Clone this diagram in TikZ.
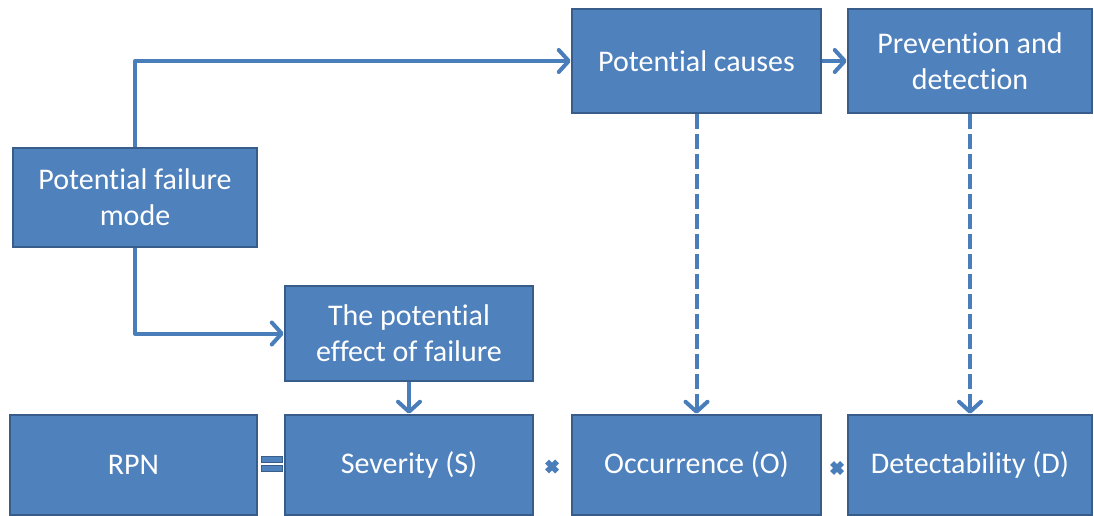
\documentclass[tikz,border=0pt]{standalone}
\usepackage{fontspec}
\setmainfont{Carlito}[Ligatures={NoCommon,NoDiscretionary}]
\usetikzlibrary{arrows.meta}
\definecolor{boxfill}{HTML}{4F81BD}
\definecolor{boxline}{HTML}{385D8A}
\definecolor{linkblue}{HTML}{4A7EBB}
\tikzset{
  stepbox/.style={draw=boxline, fill=boxfill, line width=2.5pt, text=white,
    font=\fontsize{30}{36}\selectfont, align=center, inner sep=0pt},
  link/.style={draw=linkblue, line width=4pt, line join=round,
    -{Straight Barb[length=10pt,width=22pt,line cap=round,line join=round]}},
  dashlink/.style={link, dash pattern=on 15pt off 5pt},
  opsign/.style={fill=boxfill, draw=boxline, line width=0.6pt},
  timessign/.style={draw=linkblue, line width=5.5pt}
}
\begin{document}
\begin{tikzpicture}[x=1pt,y=-1pt]
\useasboundingbox (0,0) rectangle (1094,516);

% process boxes
\node[stepbox, minimum width=244pt, minimum height=99pt] (pfm) at (135,197.5) {Potential failure\\mode};
\node[stepbox, minimum width=249pt, minimum height=104pt] (pc) at (696.5,61) {Potential causes};
\node[stepbox, minimum width=244pt, minimum height=104pt] (pd) at (970,61) {Prevention and\\detection};
\node[stepbox, minimum width=248pt, minimum height=95pt] (eff) at (409,333.5) {The potential\\effect of failure};
\node[stepbox, minimum width=247pt, minimum height=100pt] (rpn) at (133.5,465) {RPN};
\node[stepbox, minimum width=248pt, minimum height=100pt] (sev) at (409,465) {Severity (S)};
\node[stepbox, minimum width=249pt, minimum height=100pt] (occ) at (696.5,465) {Occurrence (O)};
\node[stepbox, minimum width=244pt, minimum height=100pt] (det) at (970,465) {Detectability (D)};

% solid connectors
\draw[link] (pfm.north) |- (pc.west);
\draw[link] (pfm.south) |- (eff.west);
\draw[link] (pc.east) -- (pd.west);
\draw[link] (eff.south) -- (sev.north);

% dashed connectors
\draw[dashlink] (pc.south) -- (occ.north);
\draw[dashlink] (pd.south) -- (det.north);

% equals sign
\path[opsign] (261,456) rectangle (282,462);
\path[opsign] (261,465.5) rectangle (282,471.5);

% multiplication signs
\coordinate (m1) at (552,466.5);
\coordinate (m2) at (837,468);
\draw[timessign] ([shift={(-5,-5)}]m1) -- ([shift={(5,5)}]m1);
\draw[timessign] ([shift={(-5,5)}]m1) -- ([shift={(5,-5)}]m1);
\draw[timessign] ([shift={(-5,-5)}]m2) -- ([shift={(5,5)}]m2);
\draw[timessign] ([shift={(-5,5)}]m2) -- ([shift={(5,-5)}]m2);
\end{tikzpicture}
\end{document}
